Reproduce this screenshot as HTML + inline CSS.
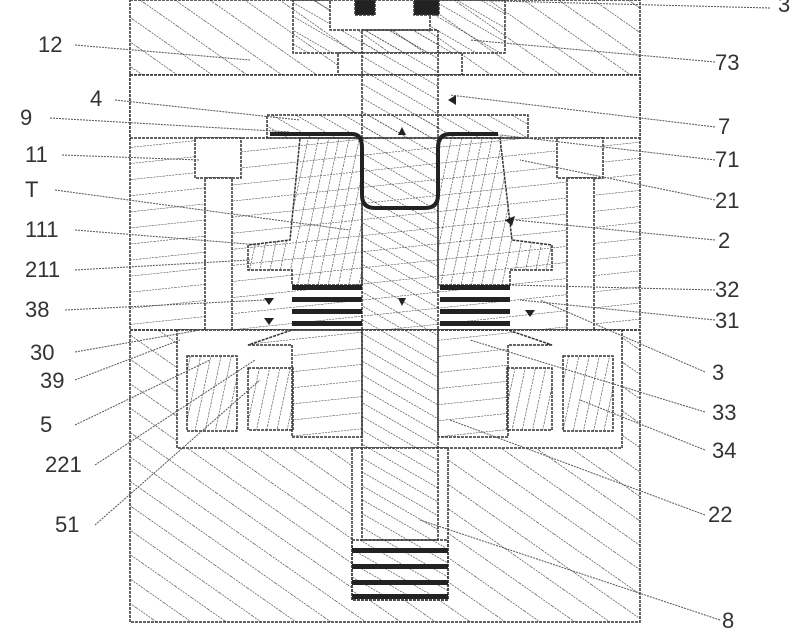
<!DOCTYPE html>
<html><head><style>
html,body{margin:0;padding:0;background:#fff;}
svg{display:block;}
text{font-family:"Liberation Sans",sans-serif;font-size:22px;fill:#333;}
</style></head><body>
<svg width="800" height="639" viewBox="0 0 800 639" xmlns="http://www.w3.org/2000/svg">
<defs>
<pattern id="h1" width="20" height="20" patternUnits="userSpaceOnUse" patternTransform="rotate(-55)">
<line x1="0" y1="0" x2="0" y2="20" stroke="#333" stroke-width="1.2" stroke-dasharray="2,1"/></pattern>
<pattern id="h2" width="12" height="12" patternUnits="userSpaceOnUse" patternTransform="rotate(-60)">
<line x1="0" y1="0" x2="0" y2="12" stroke="#333" stroke-width="1.2" stroke-dasharray="2,1"/></pattern>
<pattern id="h3" width="10" height="10" patternUnits="userSpaceOnUse" patternTransform="rotate(12)">
<line x1="0" y1="0" x2="0" y2="10" stroke="#333" stroke-width="1.1" stroke-dasharray="2,1"/></pattern>
<pattern id="h4" width="16" height="16" patternUnits="userSpaceOnUse" patternTransform="rotate(-6)">
<line x1="0" y1="0" x2="16" y2="0" stroke="#333" stroke-width="1.1" stroke-dasharray="2,1"/></pattern>
</defs>
<g stroke="#333" stroke-width="1.5" stroke-dasharray="3,1">
<!-- top block -->
<rect x="130" y="0" width="510" height="75" fill="url(#h1)"/>
<rect x="293" y="0" width="212" height="53" fill="url(#h2)"/>
<rect x="338" y="53" width="124" height="22" fill="#fff"/>
<rect x="330" y="0" width="100" height="30" fill="#fff"/>
<rect x="355" y="0" width="20" height="15" fill="#222"/>
<rect x="414" y="0" width="25" height="15" fill="#222"/>
<!-- middle band -->
<rect x="130" y="75" width="510" height="255" fill="url(#h4)"/>
<rect x="130" y="75" width="510" height="63" fill="#fff"/>
<!-- plate 4 -->
<rect x="267" y="115" width="261" height="23" fill="url(#h2)"/>
<!-- body 2 cone -->
<path d="M300 138 L362 138 L362 285 L292 285 L292 270 L248 270 L248 245 L290 240 Z" fill="url(#h3)"/>
<path d="M500 138 L438 138 L438 285 L510 285 L510 270 L552 270 L552 245 L512 240 Z" fill="url(#h3)"/>
<!-- bolts -->
<rect x="195" y="138" width="46" height="40" fill="#fff"/>
<rect x="205" y="178" width="27" height="255" fill="#fff"/>
<rect x="557" y="138" width="46" height="40" fill="#fff"/>
<rect x="567" y="178" width="27" height="255" fill="#fff"/>
<!-- lower block -->
<rect x="130" y="330" width="510" height="292" fill="url(#h1)"/>
<rect x="177" y="330" width="445" height="118" fill="#fff"/>
<rect x="187" y="356" width="50" height="75" fill="url(#h3)"/>
<rect x="563" y="356" width="50" height="75" fill="url(#h3)"/>
<path d="M248 345 L292 345 L292 437 L362 437 L362 330 L292 330 Z" fill="url(#h4)"/>
<path d="M552 345 L508 345 L508 437 L438 437 L438 330 L508 330 Z" fill="url(#h4)"/>
<rect x="248" y="368" width="45" height="62" fill="url(#h3)"/>
<rect x="507" y="368" width="45" height="62" fill="url(#h3)"/>
<!-- bore -->
<rect x="352" y="448" width="96" height="152" fill="#fff"/>
<!-- shaft -->
<rect x="362" y="30" width="76" height="510" fill="url(#h2)"/>
<rect x="352" y="540" width="96" height="60" fill="url(#h2)"/>
</g>
<!-- springs -->
<g fill="#222">
<rect x="292" y="285" width="70" height="5"/><rect x="292" y="297" width="70" height="5"/><rect x="292" y="309" width="70" height="5"/><rect x="292" y="321" width="70" height="5"/>
<rect x="440" y="285" width="70" height="5"/><rect x="440" y="297" width="70" height="5"/><rect x="440" y="309" width="70" height="5"/><rect x="440" y="321" width="70" height="5"/>
<rect x="352" y="548" width="96" height="5"/><rect x="352" y="564" width="96" height="5"/><rect x="352" y="580" width="96" height="5"/><rect x="352" y="594" width="96" height="5"/>
</g>
<!-- hat 9 -->
<path d="M270 134 L352 134 Q362 134 362 148 L362 195 Q362 208 375 208 L425 208 Q438 208 438 195 L438 148 Q438 134 450 134 L498 134" fill="none" stroke="#222" stroke-width="4"/>
<!-- arrow marks -->
<g fill="#222">
<path d="M398 135 l8 0 l-4 -8z"/><path d="M398 298 l8 0 l-4 8z"/><path d="M448 100 l8 -5 l0 10z"/>
<path d="M264 298 l10 0 l-5 7z"/><path d="M264 318 l10 0 l-5 7z"/><path d="M525 310 l10 0 l-5 7z"/><path d="M505 220 l10 -4 l-3 10z"/>
</g>
<!-- leaders -->
<g stroke="#555" stroke-width="1" stroke-dasharray="2,1" fill="none">
<path d="M75 45 L250 60"/><path d="M115 100 L300 120"/><path d="M50 118 L290 132"/>
<path d="M62 155 L200 160"/><path d="M55 190 L350 230"/><path d="M75 230 L260 245"/>
<path d="M75 270 L250 260"/><path d="M65 310 L265 300"/><path d="M75 352 L200 330"/>
<path d="M75 380 L180 340"/><path d="M75 425 L210 360"/><path d="M95 465 L255 360"/>
<path d="M95 525 L260 380"/>
<path d="M770 8 L460 0"/><path d="M715 62 L470 40"/><path d="M715 127 L450 95"/>
<path d="M715 160 L500 135"/><path d="M715 200 L520 160"/><path d="M715 240 L515 220"/>
<path d="M715 290 L510 285"/><path d="M715 320 L520 300"/><path d="M705 372 L540 300"/>
<path d="M705 412 L470 340"/><path d="M705 450 L580 400"/><path d="M705 515 L450 420"/>
<path d="M720 620 L420 520"/>
</g>
<text x="38" y="52">12</text><text x="90" y="106">4</text><text x="20" y="125">9</text>
<text x="25" y="162">11</text><text x="25" y="197">T</text><text x="25" y="237">111</text>
<text x="25" y="277">211</text><text x="25" y="317">38</text><text x="30" y="360">30</text>
<text x="40" y="388">39</text><text x="40" y="432">5</text><text x="45" y="472">221</text>
<text x="55" y="532">51</text>
<text x="778" y="12">3</text><text x="715" y="70">73</text><text x="718" y="134">7</text>
<text x="715" y="167">71</text><text x="715" y="208">21</text><text x="718" y="248">2</text>
<text x="715" y="297">32</text><text x="715" y="328">31</text><text x="712" y="380">3</text>
<text x="712" y="420">33</text><text x="712" y="458">34</text><text x="708" y="522">22</text>
<text x="722" y="628">8</text>
</svg>
</body></html>
